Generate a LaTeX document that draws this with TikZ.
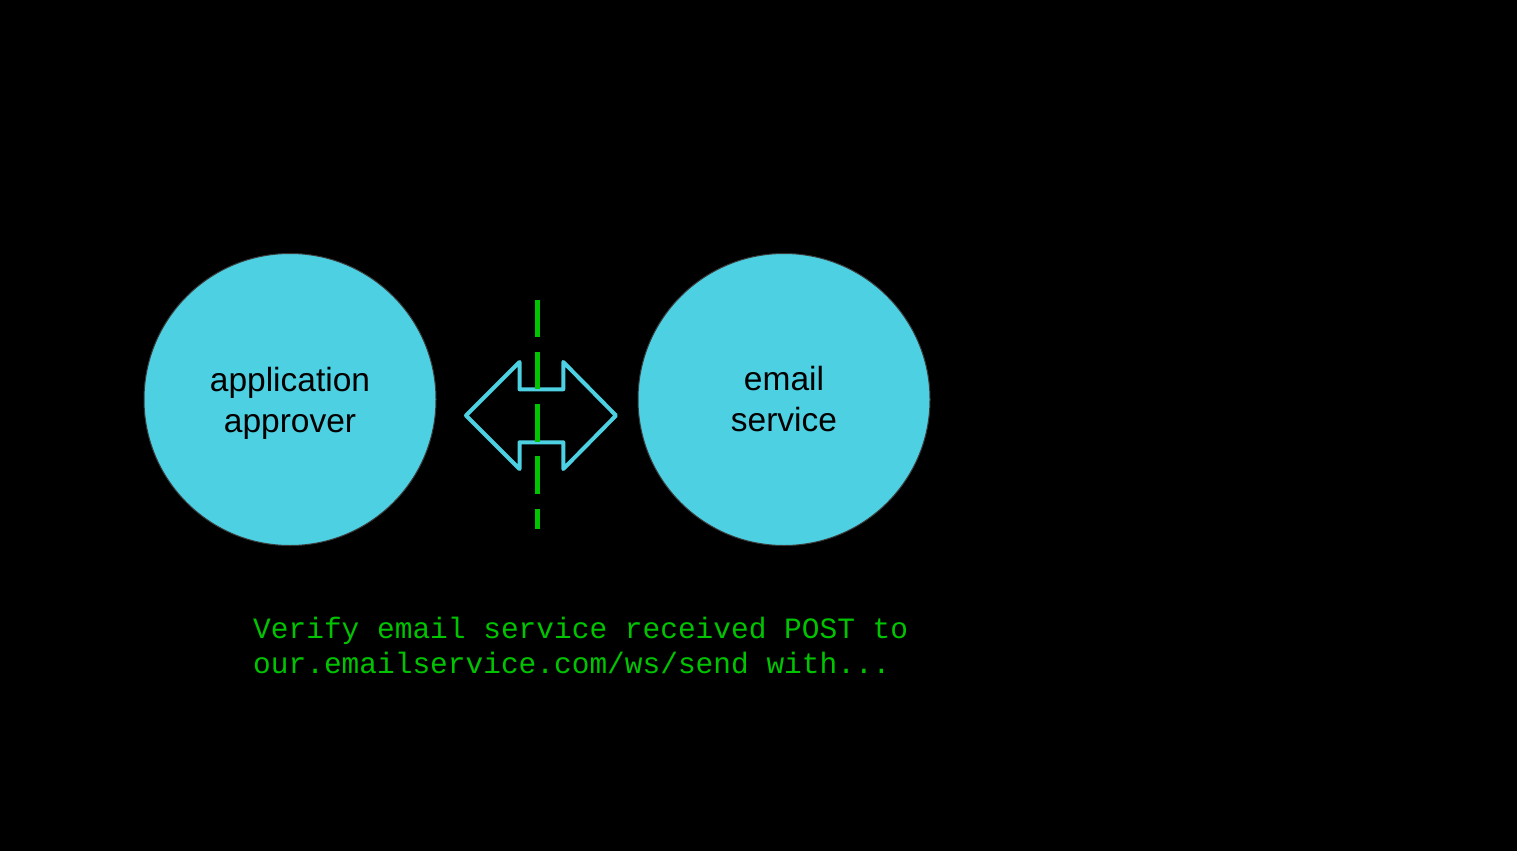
\documentclass[tikz,border=0pt]{standalone}
\usepackage{fontspec}
\setmainfont{Liberation Sans}
\newfontfamily\monofont{Liberation Mono}
\definecolor{bubble}{HTML}{4DD0E1}
\definecolor{edge}{HTML}{3A3A3A}
\definecolor{termgreen}{HTML}{00C400}
\begin{document}
\begin{tikzpicture}[x=1pt,y=-1pt,
  bubblenode/.style={circle,fill=bubble,draw=edge,line width=1pt,minimum size=292pt,inner sep=0pt,align=center,
    font=\fontsize{33.5}{41}\selectfont,text=black},
  arrowline/.style={draw=bubble,line width=4pt,line join=round,line cap=round},
  dashline/.style={draw=termgreen,line width=4.5pt,dash pattern=on 37.5pt off 14.7pt},
  note/.style={anchor=north west,align=left,inner sep=0pt,text=termgreen,
    font=\monofont\fontsize{29.5}{35}\selectfont}]
\fill[black] (0,0) rectangle (1517,851);
\useasboundingbox (0,0) rectangle (1517,851);
\node[bubblenode] (approver) at (290,399.5) {application\\\raisebox{0pt}[\height][0pt]{approver}};
\node[bubblenode] (email) at (784,399.5) {email\\service};
\draw[arrowline] (466,415.5) -- (519.5,362) -- (519.5,389.3) -- (563.3,389.3) -- (563.3,362)
  -- (616,415.5) -- (563.3,469) -- (563.3,442.3) -- (519.5,442.3) -- (519.5,469) -- cycle;
\coordinate (dtop) at (537.5,299.7);
\coordinate (dbot) at (537.5,529);
\draw[dashline] (dtop) -- (dbot);
\node[note] (caption) at (253,617) {Verify email service received POST to\\our.emailservice.com/ws/send with...};
\end{tikzpicture}
\end{document}
